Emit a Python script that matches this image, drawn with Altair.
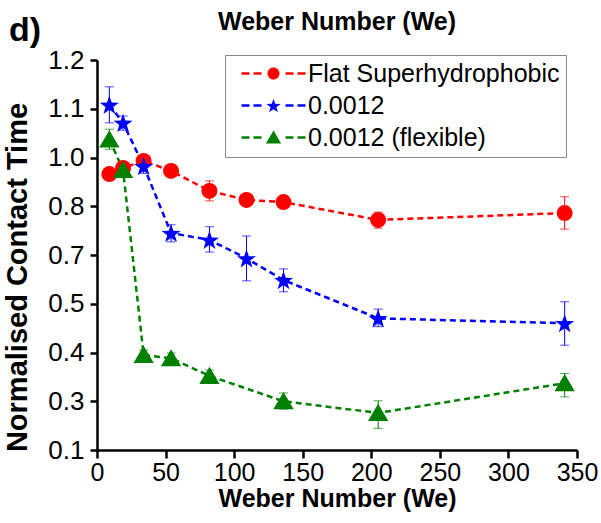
import altair as alt
import pandas as pd

# ---------------- data ----------------
names = ["Flat Superhydrophobic", "0.0012", "0.0012 (flexible)"]
colors = ["#FF0000", "#0000FF", "#008000"]

we = [9, 19, 34, 54, 82, 109, 136, 205, 341]
we_flex = [9, 19, 34, 54, 82, 136, 205, 341]

flat = [0.932, 0.957, 0.986, 0.945, 0.863, 0.826, 0.817, 0.772, 0.786]
flat_lo = [0.912, 0.936, 0.961, 0.928, 0.822, 0.805, 0.801, 0.755, 0.753]
flat_hi = [0.953, 0.977, 1.005, 0.961, 0.904, 0.846, 0.834, 0.788, 0.839]

rigid = [1.108, 1.071, 0.965, 0.745, 0.731, 0.686, 0.597, 0.470, 0.460]
rigid_lo = [1.071, 1.056, 0.935, 0.727, 0.706, 0.594, 0.549, 0.453, 0.415]
rigid_hi = [1.145, 1.085, 1.002, 0.762, 0.758, 0.739, 0.643, 0.489, 0.508]

flex = [1.037, 0.949, 0.395, 0.388, 0.352, 0.300, 0.252, 0.337]
flex_lo = [1.017, 0.924, 0.385, 0.378, 0.339, 0.268, 0.189, 0.309]
flex_hi = [1.058, 0.973, 0.405, 0.399, 0.364, 0.317, 0.301, 0.357]

y_major = [0.1, 0.3, 0.4, 0.5, 0.7, 0.8, 1.0, 1.1, 1.2]
y_minor = [0.2, 0.35, 0.45, 0.6, 0.75, 0.9, 1.05, 1.15]
x_ticks = [0, 25, 50, 75, 100, 125, 150, 175, 200, 225, 250, 275, 300, 325, 350]

x_title = "Weber Number (We)"
y_title = "Normalised Contact Time"
panel_label = "d)"

# ---------------- table ----------------
rows = []
for name, xs, ys, los, his in [
    (names[0], we, flat, flat_lo, flat_hi),
    (names[1], we, rigid, rigid_lo, rigid_hi),
    (names[2], we_flex, flex, flex_lo, flex_hi),
]:
    for a, b, c, d in zip(xs, ys, los, his):
        rows.append({"We": a, "t": b, "lo": c, "hi": d, "series": name})
df = pd.DataFrame(rows)

W, H = 480, 390
FONT = "Liberation Sans"

# piecewise y scale: the printed labels are evenly spaced
step = H / (len(y_major) - 1)
y_range = [H - step * k for k in range(len(y_major))]
yscale = alt.Scale(domain=y_major, range=y_range, nice=False, zero=False)
xscale = alt.Scale(domain=[0, 350], nice=False, zero=False)
cscale = alt.Scale(domain=names, range=colors)

major_js = "[" + ",".join(str(v) for v in y_major) + "]"

xaxis = alt.Axis(
    values=x_ticks,
    labelExpr="datum.value % 50 == 0 ? datum.label : ''",
    tickSize={"condition": {"test": "datum.value % 50 == 0", "value": 8}, "value": 4},
    labelFontSize=25, labelFont=FONT, labelColor="black", labelPadding=2,
    labelFlush=False, labelOverlap=False,
    title=x_title, titleFontSize=25, titleFont=FONT, titleFontWeight="bold",
    titleColor="black", titleX=240, titleY=48, titleAlign="center", titleBaseline="middle",
    grid=False,
)
yaxis = alt.Axis(
    values=sorted(y_major + y_minor),
    labelExpr=f"indexof({major_js}, datum.value) >= 0 ? format(datum.value, '.1f') : ''",
    tickSize={"condition": {"test": f"indexof({major_js}, datum.value) >= 0", "value": 7}, "value": 4},
    labelFontSize=26, labelFont=FONT, labelColor="black", labelPadding=6,
    labelFlush=False, labelOverlap=False,
    title=y_title, titleFontSize=29, titleFont=FONT, titleFontWeight="bold",
    titleColor="black", titleX=-80, titleY=217, titleAngle=270, titleAlign="center",
    titleBaseline="middle",
    grid=False,
)

base = alt.Chart(df)
X = alt.X("We:Q", scale=xscale, axis=xaxis)
Y = alt.Y("t:Q", scale=yscale, axis=yaxis)
C = alt.Color("series:N", scale=cscale, legend=None)

star = ("M0,-1.13L0.294,-0.285L1.189,-0.266L0.476,0.275L0.735,1.131L0,0.62"
        "L-0.735,1.131L-0.476,0.275L-1.189,-0.266L-0.294,-0.285Z")
tri = "M0,-1.15L1.27,1.0L-1.27,1.0Z"
circ = "M1,0A1,1,0,1,1,-1,0A1,1,0,1,1,1,0Z"
shapes = ["circle", star, tri]

dash = "M-5.33,-0.2H-4V0.2H-5.33Z M-3.33,-0.2H-2V0.2H-3.33Z M2,-0.2H3.33V0.2H2Z M4,-0.2H5.33V0.2H4Z "
leg_shapes = [dash + circ, dash + star, dash + tri]
legend = alt.Legend(
    orient="none", legendX=128, legendY=-5, title=None,
    labelFontSize=25, labelFont=FONT, labelColor="black", labelLimit=500,
    symbolSize=144, symbolStrokeWidth=0, symbolOffset=30, labelOffset=22,
    rowPadding=6, padding=6, strokeColor="#8a8a8a", fillColor="white",
)
legend_layer = (
    base.transform_filter("false")
    .mark_point(filled=True, opacity=1, size=144)
    .encode(
        x=X, y=Y,
        color=alt.Color("series:N", scale=cscale, legend=legend),
        shape=alt.Shape("series:N", scale=alt.Scale(domain=names, range=leg_shapes), legend=legend),
    )
)

lines = base.mark_line(strokeDash=[6, 4], strokeWidth=2.5).encode(x=X, y=Y, color=C)
bars = base.mark_rule(strokeWidth=1).encode(x="We:Q", y="lo:Q", y2="hi:Q", color=C)
cap_lo = base.mark_tick(orient="horizontal", size=9, thickness=1).encode(x="We:Q", y="lo:Q", color=C)
cap_hi = base.mark_tick(orient="horizontal", size=9, thickness=1).encode(x="We:Q", y="hi:Q", color=C)

pts = []
for name, shp in zip(names, shapes):
    pts.append(
        base.transform_filter(alt.datum.series == name)
        .mark_point(filled=True, shape=shp, size=256, opacity=1, strokeWidth=0)
        .encode(x="We:Q", y="t:Q", color=C)
    )

notes = pd.DataFrame({"lab": [panel_label, x_title]})
panel = (
    alt.Chart(notes).transform_filter(alt.datum.lab == panel_label)
    .mark_text(font=FONT, fontSize=34, fontWeight="bold", align="left",
               baseline="alphabetic", color="black")
    .encode(text="lab:N", x=alt.value(-88), y=alt.value(-19))
)
top_title = (
    alt.Chart(notes).transform_filter(alt.datum.lab == x_title)
    .mark_text(font=FONT, fontSize=25, fontWeight="bold", align="center",
               baseline="alphabetic", color="black")
    .encode(text="lab:N", x=alt.value(W / 2), y=alt.value(-30))
)

chart = (
    alt.layer(legend_layer, lines, bars, cap_lo, cap_hi, *pts, panel, top_title)
    .properties(
        width=W, height=H,
        autosize=alt.AutoSizeParams(type="none"),
        padding={"left": 97, "top": 60, "right": 24, "bottom": 73},
    )
    .configure_view(stroke=None)
    .configure_axis(domainColor="black", domainWidth=2.5, tickColor="black", tickWidth=2.5)
)

chart.save("out.html", embed_options={"renderer": "svg", "actions": False})
